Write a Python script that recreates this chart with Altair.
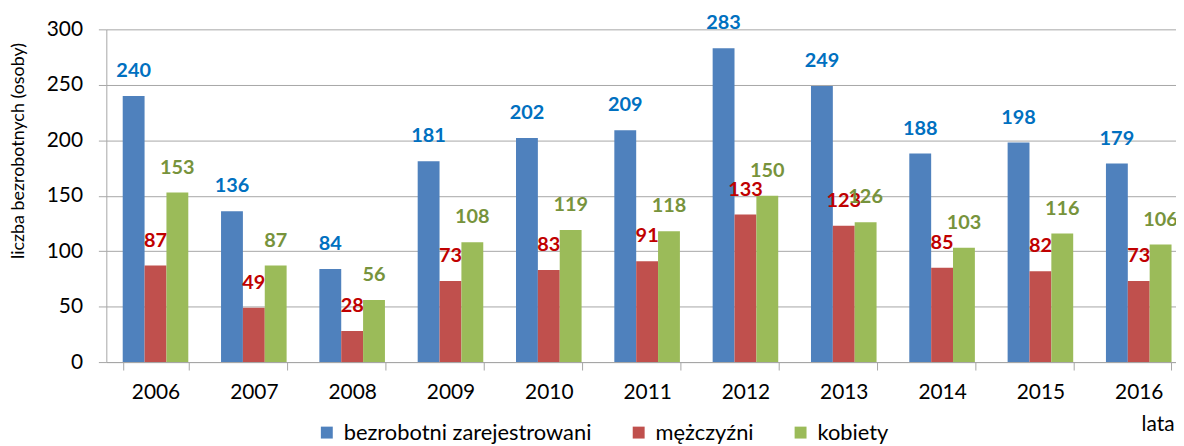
import altair as alt
import pandas as pd

years = ["2006", "2007", "2008", "2009", "2010", "2011", "2012", "2013", "2014", "2015", "2016"]
series = ["bezrobotni zarejestrowani", "mężczyźni", "kobiety"]
bezrobotni = [240, 136, 84, 181, 202, 209, 283, 249, 188, 198, 179]
mezczyzni = [87, 49, 28, 73, 83, 91, 133, 123, 85, 82, 73]
kobiety = [153, 87, 56, 108, 119, 118, 150, 126, 103, 116, 106]

bar_colors = ["#4F81BD", "#C0504D", "#9BBB59"]
label_colors = ["#0070C0", "#C00000", "#77933C"]

rows = []
for vals, name in zip([bezrobotni, mezczyzni, kobiety], series):
    for y, v in zip(years, vals):
        rows.append({"rok": y, "seria": name, "wartosc": v})
df = pd.DataFrame(rows)

FONT = "Lato"
GRAY = "#A6A6A6"

x_enc = alt.X(
    "rok:N",
    sort=years,
    scale=alt.Scale(paddingInner=0.333, paddingOuter=0.1667, range=[0, 1089]),
    axis=alt.Axis(
        title="lata", titleX=1075, titleY=63, titleAlign="right", titleBaseline="middle",
        titleFontSize=21, titleFontWeight="normal", titleColor="#000000",
        labelAngle=0, labelFontSize=21, labelColor="#000000", labelPadding=12,
        tickBand="extent", tickSize=8, tickColor=GRAY, domainColor=GRAY, grid=False,
    ),
)
xo_enc = alt.XOffset("seria:N", sort=series, scale=alt.Scale(paddingInner=0, paddingOuter=0))
y_enc = alt.Y(
    "wartosc:Q",
    scale=alt.Scale(domain=[0, 300], nice=False),
    axis=alt.Axis(
        values=[0, 50, 100, 150, 200, 250, 300],
        title="liczba bezrobotnych (osoby)", titleX=-88, titleY=122, titleAngle=-90,
        titleAlign="center", titleBaseline="middle", titleFontSize=18,
        titleFontWeight="normal", titleColor="#000000",
        labelFontSize=21, labelColor="#000000", labelPadding=16,
        tickSize=8, tickColor=GRAY, domainColor=GRAY, grid=True, gridColor=GRAY,
    ),
)

bars = alt.Chart(df).mark_bar().encode(
    x=x_enc, xOffset=xo_enc, y=y_enc,
    color=alt.Color(
        "seria:N", sort=series,
        scale=alt.Scale(domain=series, range=bar_colors),
        legend=alt.Legend(
            title=None, orient="none", legendX=211, legendY=395, direction="horizontal",
            symbolType="square", symbolSize=144, symbolStrokeWidth=0,
            labelFontSize=22, labelColor="#000000", columnPadding=36, labelOffset=6,
            labelLimit=0,
        ),
    ),
)

labels = alt.Chart(df).mark_text(
    dy=-25, baseline="middle", align="center", fontWeight="bold", fontSize=20
).encode(
    x=x_enc, xOffset=xo_enc, y=y_enc,
    text=alt.Text("wartosc:Q"),
    color=alt.Color("seria:N", sort=series,
                    scale=alt.Scale(domain=series, range=label_colors), legend=None),
)

chart = (
    alt.layer(bars, labels)
    .resolve_scale(color="independent")
    .properties(
        width=1077, height=335, autosize="none",
        padding={"left": 99, "top": 20, "right": 0, "bottom": 83},
    )
    .configure(font=FONT)
    .configure_view(stroke=None)
)

chart.save("out.html", embed_options={"renderer": "svg", "actions": False})
